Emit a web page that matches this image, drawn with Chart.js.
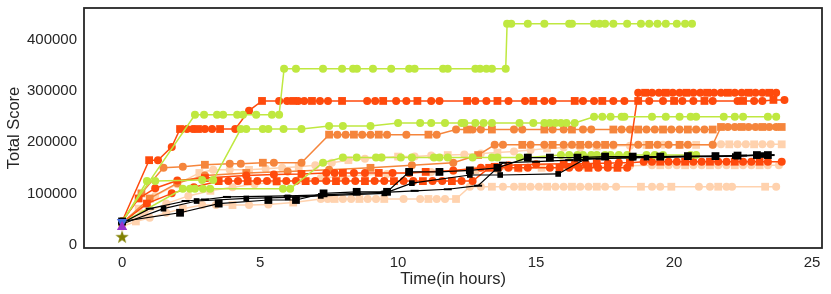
<!DOCTYPE html>
<html>
<head>
<meta charset="utf-8">
<script src="https://cdn.jsdelivr.net/npm/chart.js@4.4.0/dist/chart.umd.min.js"></script>
<style>
  html, body { margin: 0; padding: 0; background: #fff; }
  canvas { display: block; }
</style>
</head>
<body>
<canvas id="scoreChart" width="831" height="294"></canvas>
<script>
// tick labels
const hourTicks = [0, 5, 10, 15, 20, 25];
const scoreTicks = [0, 100000, 200000, 300000, 400000];

// peach runs
const peachLowHours = [0, 0.5, 1.0, 1.6, 2.2, 2.9, 3.4, 4.0, 4.6, 5.3, 6.2,
  7.2, 7.45, 7.7, 8.0, 8.3, 8.6, 8.9, 9.2, 9.5, 10.2, 10.8, 11.1, 11.4, 11.7, 12.1,
  12.6, 13.0, 13.4, 13.8, 14.2, 14.5, 14.8, 15.1, 15.4, 15.7, 16.0, 16.3, 16.6, 16.9,
  17.2, 17.5, 17.9, 18.8, 19.2, 19.5, 19.9, 20.9, 21.3, 21.6, 21.9, 22.1, 23.3, 23.7];
const peachLowScores = [35000, 45000, 52000, 62000, 70000, 77000, 77000, 77000, 77000, 78000, 82000,
  89000, 89000, 89000, 89000, 89000, 89000, 89000, 89000, 89000, 89000, 89000, 89000, 89000, 89000, 89000,
  113000, 113000, 113000, 113000, 113000, 113000, 113000, 113000, 113000, 113000, 113000, 113000, 113000, 113000,
  113000, 113000, 113000, 113000, 113000, 113000, 113000, 113000, 113000, 113000, 113000, 113000, 113000, 113000];

const peachMidHours = [0, 0.6, 1.2, 2.0, 2.8, 3.3, 3.9, 4.6, 5.2, 5.8, 6.4, 7.0, 7.6, 8.2, 8.8,
  9.4, 10.0, 10.6, 11.2, 11.8, 12.4, 13.0, 13.6, 14.2, 14.8, 15.4, 16.0, 16.6, 17.2, 17.8,
  18.4, 19.0, 19.6, 20.2, 20.8, 21.4, 21.7, 22.0, 22.3, 22.6, 22.9, 23.2, 23.5, 23.9];
const peachMidScores = [40000, 70000, 95000, 118000, 140000, 146000, 146000, 146000, 148000, 150000,
  152000, 155000, 160000, 165000, 168000, 170000, 172000, 172000, 174000, 175000,
  176000, 178000, 180000, 182000, 185000, 188000, 190000, 190000, 192000, 193000,
  193000, 195000, 195000, 195000, 195000, 195000, 196000, 196000, 196000, 196000,
  196000, 196000, 196000, 196000];

const peachLateHours = [0, 0.8, 1.6, 2.4, 3.2, 4.0, 4.8, 5.6, 6.4, 7.2, 8.0,
  8.8, 9.6, 10.4, 11.2, 12.0, 12.8, 13.6, 14.4, 15.2, 16.0, 16.8, 17.6, 18.4, 19.2,
  19.5, 19.8, 20.1, 20.4, 20.7, 21.0, 21.3, 21.6, 21.9, 22.2, 22.5, 22.8, 23.1, 23.4, 23.8];
const peachLateScores = [38000, 60000, 80000, 95000, 105000, 112000, 118000, 122000, 126000, 130000,
  133000, 136000, 138000, 140000, 142000, 144000, 145000, 146000, 148000, 150000,
  151000, 152000, 153000, 154000, 155000,
  155000, 155000, 155000, 155000, 155000, 155000, 155000, 155000, 155000, 155000,
  155000, 155000, 155000, 155000, 155000];

// orange runs
const orangeStepHours = [0, 0.7, 1.5, 2.2, 3.0, 3.9, 4.3, 5.1, 5.5, 6.5,
  7.5, 7.8, 8.1, 8.4, 8.7, 9.0, 9.3, 9.6, 10.3, 11.1, 11.4,
  12.1, 12.5, 12.7, 13.0, 13.4, 14.2, 14.5, 15.3, 15.6, 16.0, 16.3, 16.7, 17.0,
  17.8, 18.1, 18.4, 18.7, 19.0, 19.3, 19.6, 19.9, 20.2, 20.5, 20.8, 21.1, 21.4];
const orangeStepScores = [45000, 100000, 150000, 152000, 156000, 158000, 158000, 160000, 160000, 160000,
  215000, 215000, 215000, 215000, 215000, 215000, 215000, 215000, 215000, 215000, 215000,
  225000, 225000, 225000, 225000, 225000, 225000, 225000, 225000, 225000, 225000, 225000, 225000, 225000,
  225000, 225000, 225000, 225000, 225000, 225000, 225000, 225000, 225000, 225000, 225000, 225000, 225000];

const orangeLateHours = [0, 1.0, 2.0, 3.0, 4.5, 6.0, 7.5, 9.0, 10.5, 12.0, 12.9,
  13.5, 13.8, 14.5, 14.8, 15.3, 15.6, 16.0, 16.3, 16.6, 16.9, 17.2, 17.5, 17.8, 18.7,
  19.1, 19.4, 19.8, 20.2, 20.5, 21.4,
  21.7, 21.95, 22.2, 22.45, 22.7, 22.95, 23.2, 23.45, 23.7, 23.9];
const orangeLateScores = [42000, 90000, 120000, 135000, 140000, 143000, 146000, 150000, 155000, 160000, 175000,
  195000, 195000, 195000, 195000, 195000, 195000, 195000, 195000, 195000, 195000,
  195000, 195000, 195000, 195000, 195000, 195000, 195000, 195000, 195000, 195000,
  230000, 230000, 230000, 230000, 230000, 230000, 230000, 230000, 230000, 230000];

// red runs
const redMidHours = [0, 0.6, 1.2, 2.0, 3.0, 4.5, 5.5, 6.5,
  7.4, 7.7, 8.0, 8.4, 8.8, 9.3, 9.8, 10.4,
  11.0, 12.0, 13.0, 13.5, 14.0, 15.0, 16.0, 16.4, 16.8, 17.2, 17.6, 18.0, 18.4,
  18.9, 19.2, 19.5, 19.8, 20.1, 20.4, 20.7, 21.0, 21.3, 21.6, 21.9, 22.2, 22.5, 22.8, 23.1, 23.4, 23.9];
const redMidScores = [45000, 90000, 110000, 125000, 130000, 135000, 137000, 138000,
  140000, 140000, 140000, 140000, 140000, 140000, 140000, 140000,
  142000, 145000, 150000, 152000, 155000, 157000, 158000, 158000, 158000, 159000, 159000, 160000, 160000,
  162000, 162000, 162000, 162000, 162000, 162000, 162000, 162000, 162000, 162000, 162000, 162000, 162000,
  162000, 162000, 162000, 162000];

const redJumpHours = [0, 0.9, 1.8, 2.6,
  3.5, 3.85, 4.2, 4.55, 4.9, 5.25, 5.6, 5.95, 6.3, 6.65, 7.0, 7.4, 7.75, 8.1, 8.45, 8.8,
  9.15, 9.5, 9.85, 10.2, 10.55, 10.9, 11.25, 11.6, 11.95, 12.3, 12.7,
  13.3, 13.65, 14.0, 14.35, 14.7, 15.5, 15.85, 16.2, 16.55, 16.9, 17.25, 17.6, 17.95, 18.3,
  18.7, 18.95, 19.2, 19.45, 19.7, 19.95, 20.2, 20.45, 20.7, 20.95, 21.2, 21.45, 21.7, 21.95,
  22.2, 22.45, 22.7, 22.95, 23.2, 23.45, 23.7];
const redJumpScores = [42000, 80000, 100000, 112000,
  124000, 124000, 124000, 124000, 124000, 124000, 124000, 124000, 124000, 124000, 124000, 124000,
  124000, 124000, 124000, 124000, 124000, 124000, 124000, 124000, 124000, 124000, 124000, 124000,
  124000, 124000, 124000,
  150000, 150000, 150000, 150000, 150000, 150000, 150000, 150000, 150000, 150000, 150000, 150000,
  150000, 150000,
  297000, 297000, 297000, 297000, 297000, 297000, 297000, 297000, 297000, 297000, 297000, 297000,
  297000, 297000, 297000, 297000, 297000, 297000, 297000, 297000, 297000];

const redTopHours = [0, 0.98, 1.3, 1.8,
  2.1, 2.35, 2.57, 2.75, 3.0, 3.26, 3.55, 4.1, 4.6,
  5.07, 5.69, 5.98, 6.2, 6.38, 6.6, 6.88, 7.17, 7.46, 7.97, 8.88, 9.17, 9.46, 9.93, 10.3, 10.7,
  11.2, 11.5, 12.5, 12.8, 13.2, 13.6, 14.0, 14.6, 14.9, 15.3, 15.6, 16.4, 16.7, 17.1, 17.4, 17.8,
  18.2, 18.7, 19.1, 19.6, 20.0, 20.3, 20.7, 21.1, 21.4, 22.3, 22.5, 22.9, 23.2, 23.6, 24.0];
const redTopScores = [45000, 165000, 165000, 191000,
  226000, 226000, 226000, 226000, 226000, 226000, 226000, 226000, 262000,
  281000, 281000, 281000, 281000, 281000, 281000, 281000, 281000, 281000, 281000, 281000, 281000,
  281000, 281000, 281000, 281000, 281000, 281000, 281000, 281000, 281000, 281000, 281000, 281000,
  281000, 281000, 281000, 281000, 281000, 281000, 281000, 281000, 281000, 281000, 281000, 281000,
  281000, 281000, 281000, 281000, 281000, 281000, 281000, 281000, 281000, 283000, 283000];

// lime runs
const limeLowHours = [0, 2.2, 2.46, 2.64, 2.93, 3.19, 5.83, 6.09, 7.28,
  8.0, 8.5, 9.2, 9.4, 10.1, 10.5, 11.3, 11.5, 11.8, 12.7, 13.4, 13.6, 14.4, 14.7,
  15.9, 16.2, 16.5, 16.7, 17.0, 17.2, 17.5, 17.7, 18.0, 18.3, 19.0, 19.3, 19.6, 20.6, 20.8];
const limeLowScores = [42000, 109000, 109000, 109000, 109000, 109000, 109000, 109000, 160000,
  170000, 170000, 170000, 170000, 170000, 170000, 170000, 170000, 170000, 170000, 170000, 170000, 170000, 170000,
  175000, 175000, 175000, 175000, 175000, 175000, 175000, 175000, 175000, 175000, 175000, 175000, 175000,
  175000, 175000];

const limeMidHours = [0, 0.9, 1.2, 2.9, 3.3,
  4.3, 4.5, 5.1, 5.3, 5.85, 6.5, 7.5, 8.0, 9.0,
  10.0, 10.8, 11.2, 11.7, 12.3, 12.4, 12.8, 13.1, 13.4, 14.4, 14.9, 15.3, 15.5, 15.7, 15.9, 16.1, 16.4,
  17.1, 17.4, 17.7, 18.1, 18.2, 19.2, 19.7, 20.2, 20.6, 20.8, 21.8, 22.2, 22.5, 23.4, 23.7];
const limeMidScores = [42000, 124000, 124000, 126000, 126000,
  226000, 226000, 226000, 226000, 226000, 226000, 232000, 232000, 232000,
  238000, 238000, 238000, 238000, 238000, 238000, 238000, 238000, 238000, 238000, 238000, 238000,
  238000, 238000, 238000, 238000, 238000,
  250000, 250000, 250000, 250000, 250000, 250000, 250000, 250000, 250000, 250000, 250000, 250000,
  250000, 250000, 250000];

const limeTopHours = [0, 2.64, 2.97, 3.44, 3.66, 4.17, 4.38, 4.86, 5.43, 5.69,
  5.87, 6.3, 7.28, 7.97, 8.37, 8.51, 9.09, 9.75, 10.4, 10.6, 11.63, 11.8, 12.8, 12.97, 13.2, 13.4, 13.9,
  13.95, 14.1, 14.7, 15.3, 16.2, 16.3, 17.1, 17.3, 17.5, 17.8, 18.3, 18.8, 19.1, 19.4, 19.7,
  20.1, 20.4, 20.65];
const limeTopScores = [45000, 254000, 254000, 254000, 254000, 254000, 254000, 254000, 254000, 254000,
  344000, 344000, 344000, 344000, 344000, 344000, 344000, 344000, 344000, 344000, 344000, 344000,
  344000, 344000, 344000, 344000, 344000,
  432000, 432000, 432000, 432000, 432000, 432000, 432000, 432000, 432000, 432000, 432000, 432000,
  432000, 432000, 432000, 432000, 432000, 432000];

// black runs
const blackSquareHours = [0, 2.1, 3.5, 5.3, 6.3, 7.3, 8.5, 9.6, 10.4, 11.5, 12.6, 13.6, 14.7,
  15.5, 16.5, 17.5, 18.5, 19.5, 20.5, 21.5, 22.3, 23.0, 23.4];
const blackSquareScores = [45000, 62000, 80000, 87000, 87000, 100000, 103000, 103000, 142000, 142000,
  145000, 150000, 170000, 170000, 170000, 172000, 172000, 172000, 173000, 173000, 174000, 175000, 175000];

const blackSlowHours = [0, 1.5, 2.7, 4.5, 6.0, 7.2, 9.5, 10.5, 12.6, 13.7, 15.8, 16.8, 18.5, 19.0,
  20.5, 21.5, 22.2, 23.2];
const blackSlowScores = [40000, 70000, 85000, 90000, 92000, 95000, 100000, 120000, 136000, 136000,
  138000, 168000, 170000, 170000, 172000, 172000, 173000, 175000];

const blackDashHours = [0, 1.0, 2.3, 3.0, 3.8, 6.0, 7.3, 8.5, 9.5, 10.6, 11.8, 12.9, 13.8, 15.0,
  16.2, 17.3, 18.5, 19.5, 20.5, 21.5, 22.5, 23.5];
const blackDashScores = [42000, 70000, 85000, 88000, 93000, 95000, 97000, 100000, 102000, 105000,
  108000, 115000, 160000, 162000, 165000, 168000, 170000, 171000, 172000, 173000, 174000, 175000];

// single start points
const blueStart = [0, 44000];
const purpleStart = [0, 34000];
const oliveStart = [0, 15000];

const PEACH = '#ffd2ae', ORANGE = '#f5853c', RED = '#ff4a0c', LIME = '#bfe840';

function mixStyle(ctx) { return ctx.dataIndex % 3 === 1 ? 'rect' : 'circle'; }
function mixRadius(ctx) { return ctx.dataIndex % 3 === 1 ? 5.5 : 4; }

function run(hours, scores, color, extra) {
  return Object.assign({
    data: hours.map((h, i) => ({ x: h, y: scores[i] })),
    borderColor: color,
    backgroundColor: color,
    pointBackgroundColor: color,
    pointBorderColor: color,
    pointBorderWidth: 0,
    borderWidth: 1.5,
    pointStyle: mixStyle,
    pointRadius: mixRadius,
    tension: 0
  }, extra || {});
}

// filled star like matplotlib '*'
const star = document.createElement('canvas');
star.width = 14; star.height = 14;
(function () {
  const c = star.getContext('2d');
  c.fillStyle = '#808000';
  c.beginPath();
  for (let i = 0; i < 10; i++) {
    const r = i % 2 ? 2.8 : 7;
    const a = -Math.PI / 2 + i * Math.PI / 5;
    c.lineTo(7 + r * Math.cos(a), 7.5 + r * Math.sin(a));
  }
  c.closePath();
  c.fill();
})();

const datasets = [
  run(peachLowHours, peachLowScores, PEACH),
  run(peachLateHours, peachLateScores, PEACH),
  run(peachMidHours, peachMidScores, PEACH),
  run(orangeLateHours, orangeLateScores, ORANGE),
  run(orangeStepHours, orangeStepScores, ORANGE),
  run(redMidHours, redMidScores, RED),
  run(redJumpHours, redJumpScores, RED),
  run(redTopHours, redTopScores, RED),
  run(limeLowHours, limeLowScores, LIME, { pointStyle: 'circle', pointRadius: 4 }),
  run(limeMidHours, limeMidScores, LIME, { pointStyle: 'circle', pointRadius: 4 }),
  run(limeTopHours, limeTopScores, LIME, { pointStyle: 'circle', pointRadius: 4 }),
  run(blackDashHours, blackDashScores, '#000', { pointStyle: 'line', pointRadius: 4, pointBorderWidth: 2, borderWidth: 1.2 }),
  run(blackSlowHours, blackSlowScores, '#000', { pointStyle: 'rect', pointRadius: 4, borderWidth: 1.2 }),
  run(blackSquareHours, blackSquareScores, '#000', { pointStyle: 'rect', pointRadius: 5.5, borderWidth: 1.2 }),
  run([blueStart[0]], [blueStart[1]], '#4169e1', { pointStyle: 'triangle', pointRadius: 6, pointRotation: 180 }),
  run([purpleStart[0]], [purpleStart[1]], '#9932cc', { pointStyle: 'triangle', pointRadius: 6 }),
  run([oliveStart[0]], [oliveStart[1]], '#808000', { pointStyle: star })
];
// later entries drawn on top
datasets.forEach((d, i) => { d.order = datasets.length - i; });

const frame = {
  id: 'frame',
  afterDatasetsDraw(chart) {
    const a = chart.chartArea, ctx = chart.ctx;
    ctx.save();
    ctx.strokeStyle = '#262626';
    ctx.lineWidth = 1.8;
    ctx.strokeRect(a.left, a.top, a.right - a.left, a.bottom - a.top);
    ctx.restore();
  }
};

Chart.defaults.font.family = '"Liberation Sans", Arial, sans-serif';
Chart.defaults.color = '#262626';

new Chart(document.getElementById('scoreChart'), {
  type: 'line',
  data: { datasets: datasets },
  plugins: [frame],
  options: {
    responsive: false,
    animation: false,
    devicePixelRatio: 1,
    layout: { padding: { left: 0, right: 9, top: 8, bottom: 0 } },
    plugins: { legend: { display: false }, tooltip: { enabled: false } },
    scales: {
      x: {
        type: 'linear',
        min: -1.38,
        max: 25.36,
        grid: { display: false, drawTicks: false },
        border: { display: false },
        afterBuildTicks: s => { s.ticks = hourTicks.map(v => ({ value: v })); },
        afterFit: s => { s.height = 46; s.paddingLeft = 0; s.paddingRight = 0; },
        ticks: { font: { size: 15 }, padding: 6, maxRotation: 0 },
        title: { display: true, text: 'Time(in hours)', font: { size: 16.5 }, padding: { top: 0, bottom: 5 } }
      },
      y: {
        min: -7000,
        max: 463000,
        grid: { display: false, drawTicks: false },
        border: { display: false },
        afterBuildTicks: s => { s.ticks = scoreTicks.map(v => ({ value: v })); },
        afterFit: s => { s.width = 84; s.paddingTop = 0; s.paddingBottom = 0; },
        ticks: { font: { size: 15 }, padding: 7, callback: v => String(v) },
        title: { display: true, text: 'Total Score', font: { size: 16.5 }, padding: { top: 5, bottom: 0 } }
      }
    }
  }
});
</script>
</body>
</html>
